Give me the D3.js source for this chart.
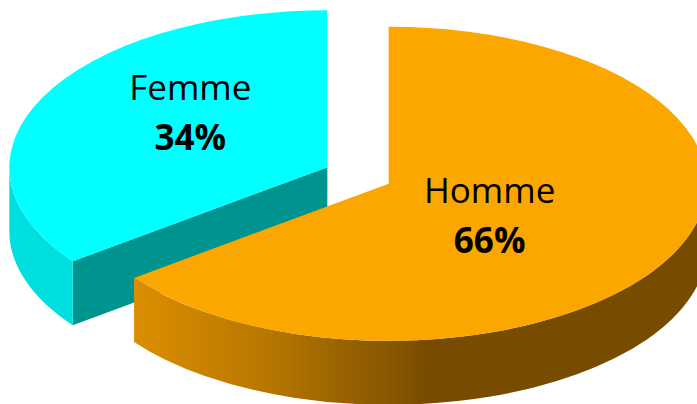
<!DOCTYPE html>
<html>
<head>
<meta charset="utf-8">
<script src="https://cdn.jsdelivr.net/npm/d3@7"></script>
<style>
    body { margin: 0; background: #ffffff; }
    svg { display: block; }
</style>
</head>
<body>
<div id="chart"></div>
<script>
// data
const categories = ["Homme", "Femme"];
const values = [66, 34];
const percentLabels = ["66%", "34%"];

function draw() {
    const w = 697;
    const h = 404;

    // 3d ellipse settings
    const cx = 358, cy = 175.5;
    const rx = 318, ry = 157;
    const depth = 64;
    const explode = 0.11;
    const warp = 0.085; // small perspective bend of the angles

    const topColor = { Homme: "#fca600", Femme: "#00ffff" };
    const sideColor = { Homme: "url(#hommeSide)", Femme: "#00dfdf" };
    const cutColor = { Homme: "#c98400", Femme: "#009490" };

    // label offset from slice centre (top face)
    const labelShift = { Homme: [101, 19], Femme: [-137, -67] };

    const svg = d3.select("#chart").append("svg")
        .attr("width", w)
        .attr("height", h);

    // gradient for the orange side
    const grad = svg.append("defs").append("linearGradient")
        .attr("id", "hommeSide")
        .attr("gradientUnits", "userSpaceOnUse")
        .attr("x1", 134).attr("x2", 430)
        .attr("y1", 0).attr("y2", 0);
    grad.append("stop").attr("offset", "0%").attr("stop-color", "#dc8e00");
    grad.append("stop").attr("offset", "45%").attr("stop-color", "#b87700");
    grad.append("stop").attr("offset", "100%").attr("stop-color", "#774c00");

    const pie = d3.pie().sort(null).value(d => d.value);
    const slices = pie(categories.map((c, i) => ({ name: c, value: values[i], pct: percentLabels[i] })));

    // bend angles a bit like the 3d view does, and explode each slice
    slices.forEach(d => {
        const mid = (d.startAngle + d.endAngle) / 2;
        d.cx = cx + Math.sin(mid) * rx * explode;
        d.cy = cy - Math.cos(mid) * ry * explode;
        d.startAngle = d.startAngle - warp * Math.sin(2 * d.startAngle);
        d.endAngle = d.endAngle - warp * Math.sin(2 * d.endAngle);
    });

    function pt(d, a, dy) {
        return [d.cx + rx * Math.sin(a), d.cy - ry * Math.cos(a) + (dy || 0)];
    }

    // outer wall, only the part facing us
    function sidePath(d) {
        const s = Math.max(d.startAngle, Math.PI / 2);
        const e = Math.min(d.endAngle, Math.PI * 3 / 2);
        if (e <= s) return null;
        const p0 = pt(d, s), p1 = pt(d, e), p2 = pt(d, e, depth), p3 = pt(d, s, depth);
        return `M${p0}A${rx},${ry} 0 0 1 ${p1}L${p2}A${rx},${ry} 0 0 0 ${p3}Z`;
    }

    // flat cut face along one radius
    function cutPath(d, a) {
        const p0 = [d.cx, d.cy], p1 = pt(d, a);
        return `M${p0}L${p1}L${p1[0]},${p1[1] + depth}L${p0[0]},${p0[1] + depth}Z`;
    }

    const arc = d3.arc().innerRadius(0).outerRadius(rx);

    // draw back slice (Femme) first
    const order = slices.slice().sort((a, b) => a.cy - b.cy);

    order.forEach(d => {
        const g = svg.append("g");

        // cut faces turned towards the viewer
        [d.startAngle, d.endAngle].forEach((a, k) => {
            const n = k == 0 ? a - Math.PI / 2 : a + Math.PI / 2;
            if (-Math.cos(n) > 0.01) {
                g.append("path")
                    .attr("d", cutPath(d, a))
                    .attr("fill", cutColor[d.data.name]);
            }
        });

        const sp = sidePath(d);
        if (sp) {
            g.append("path")
                .attr("d", sp)
                .attr("fill", sideColor[d.data.name]);
        }

        // top face
        g.append("path")
            .attr("d", arc(d))
            .attr("transform", `translate(${d.cx},${d.cy}) scale(1,${ry / rx})`)
            .attr("fill", topColor[d.data.name]);
    });

    // labels
    slices.forEach(d => {
        const sh = labelShift[d.data.name];
        const lx = d.cx + sh[0];
        const ly = d.cy + sh[1];

        svg.append("text")
            .attr("x", lx)
            .attr("y", ly)
            .attr("text-anchor", "middle")
            .style("font-family", "'Open Sans', sans-serif")
            .style("font-size", "35px")
            .attr("fill", "#000")
            .text(d.data.name);

        svg.append("text")
            .attr("x", lx)
            .attr("y", ly + 50)
            .attr("text-anchor", "middle")
            .style("font-family", "'Open Sans', sans-serif")
            .style("font-size", "35px")
            .style("font-weight", "bold")
            .attr("fill", "#000")
            .text(d.data.pct);
    });
}

window.onload = draw();
</script>
</body>
</html>
